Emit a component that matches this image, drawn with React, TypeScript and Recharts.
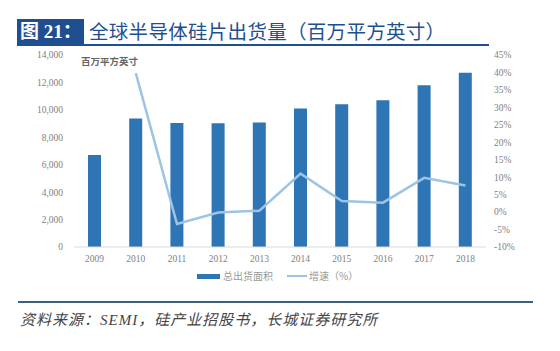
import { ComposedChart, Bar, Line, XAxis, YAxis } from "recharts";

const years: string[] = ["2009", "2010", "2011", "2012", "2013", "2014", "2015", "2016", "2017", "2018"];
const shipArea: number[] = [6700, 9370, 9040, 9030, 9070, 10100, 10400, 10700, 11800, 12700];
const growth: (number | null)[] = [null, 39.8, -3.4, -0.1, 0.4, 11.0, 3.2, 2.7, 9.8, 7.6];
const leftTicks: number[] = [0, 2000, 4000, 6000, 8000, 10000, 12000, 14000];
const rightTicks: number[] = [-10, -5, 0, 5, 10, 15, 20, 25, 30, 35, 40, 45];

const data = years.map((y, i) => ({ year: y, area: shipArea[i], growth: growth[i] }));

const BAR = "#2e75b6";
const LINE = "#9dc3e6";
const NAVY = "#1f4f91";
const tickStyle = { fontSize: 9.5, fill: "#808080", fontFamily: "'Liberation Serif', serif" };

const App = () => (
  <div style={{ position: "fixed", left: 0, top: 0, width: 560, height: 351, background: "#fff", overflow: "hidden" }}>
    {/* title */}
    <div style={{ position: "absolute", left: 17, top: 19, width: 67, height: 25, background: NAVY, color: "#fff",
      fontFamily: "'Liberation Serif', 'Noto Sans CJK SC', serif", fontWeight: "bold", fontSize: 19, lineHeight: "25px", paddingLeft: 3, boxSizing: "border-box" }}>
      图 21：
    </div>
    <div style={{ position: "absolute", left: 89, top: 17, color: NAVY, fontFamily: "'Noto Sans CJK SC', sans-serif", fontSize: 19.5, lineHeight: "27px", whiteSpace: "nowrap", letterSpacing: 0.3 }}>
      全球半导体硅片出货量（百万平方英寸）
    </div>
    <div style={{ position: "absolute", left: 17, top: 44, width: 472, height: 2, background: NAVY }} />

    <ComposedChart width={560} height={300} data={data} margin={{ top: 55, right: 14, bottom: 33, left: 14 }}>
      <XAxis dataKey="year" tick={tickStyle} tickLine={false} axisLine={{ stroke: "#d9d9d9" }} height={20} />
      <YAxis yAxisId="l" domain={[0, 14000]} ticks={leftTicks} tick={tickStyle} axisLine={false} tickLine={false}
        width={60} tickSize={0} tickMargin={11} tickFormatter={(v: number) => v.toLocaleString("en-US")} />
      <YAxis yAxisId="r" orientation="right" domain={[-10, 45]} ticks={rightTicks} tick={tickStyle} axisLine={false}
        tickLine={false} width={60} tickFormatter={(v: number) => `${v}%`} />
      <Bar yAxisId="l" dataKey="area" fill={BAR} barSize={13} isAnimationActive={false} />
      <Line yAxisId="r" dataKey="growth" stroke={LINE} strokeWidth={2.5} dot={false} connectNulls={false} isAnimationActive={false} />
    </ComposedChart>

    {/* unit label */}
    <div style={{ position: "absolute", left: 81, top: 54, fontSize: 9.5, fontWeight: "bold", color: "#666", fontFamily: "'Noto Sans CJK SC', serif" }}>
      百万平方英寸
    </div>

    {/* legend */}
    <div style={{ position: "absolute", left: 197, top: 274, width: 23, height: 5, background: BAR }} />
    <div style={{ position: "absolute", left: 223, top: 269, fontSize: 10, color: "#999", fontFamily: "'Noto Sans CJK SC', sans-serif", lineHeight: "14px" }}>
      总出货面积
    </div>
    <div style={{ position: "absolute", left: 287, top: 275, width: 20, height: 2, background: LINE }} />
    <div style={{ position: "absolute", left: 309, top: 269, fontSize: 10, color: "#999", fontFamily: "'Noto Sans CJK SC', sans-serif", lineHeight: "14px" }}>
      增速（%）
    </div>

    {/* footer */}
    <div style={{ position: "absolute", left: 18, top: 301, width: 515, height: 2, background: "#3b5f86" }} />
    <div style={{ position: "absolute", left: 20, top: 308, fontSize: 15, fontStyle: "italic", color: "#444",
      fontFamily: "'Liberation Serif', 'Noto Sans CJK SC', serif", whiteSpace: "nowrap", letterSpacing: 1 }}>
      资料来源：SEMI，硅产业招股书，长城证券研究所
    </div>
  </div>
);

export default App;
